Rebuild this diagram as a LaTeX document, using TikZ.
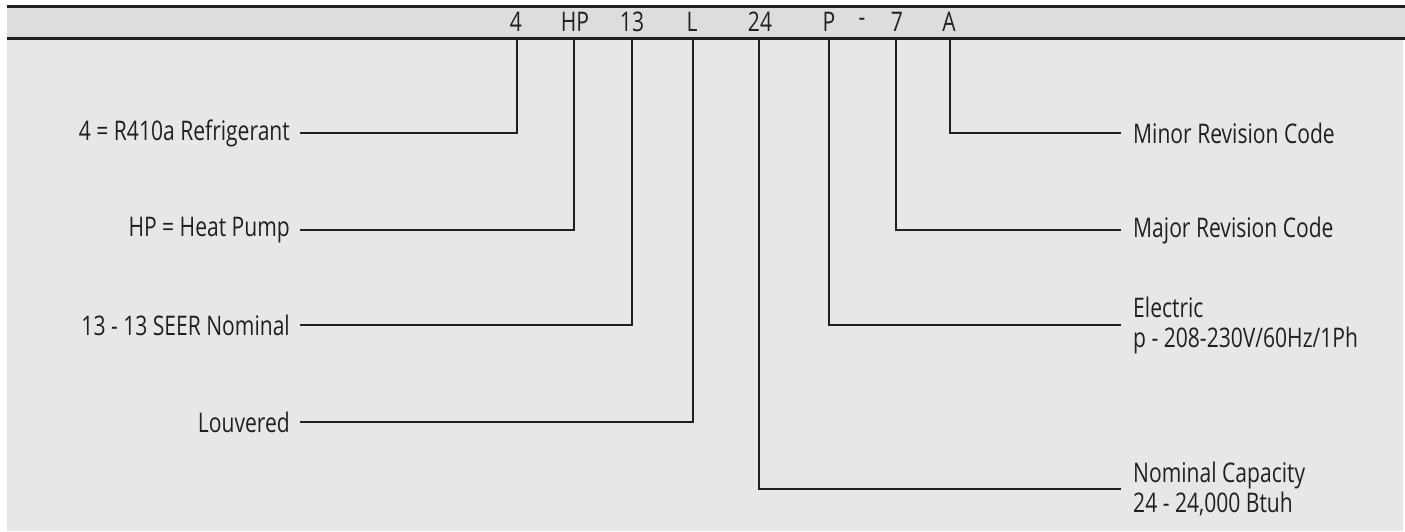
\documentclass[tikz,border=0pt]{standalone}
\usepackage{fontspec}
\setmainfont{Open Sans}[FakeStretch=0.78]
\definecolor{ink}{HTML}{231F20}
\definecolor{bodybg}{HTML}{E6E7E9}
\definecolor{headbg}{HTML}{DCDDDF}
\begin{document}
\begin{tikzpicture}[x=1pt,y=-1pt,
  txt/.style={font=\fontsize{27}{30}\selectfont, text=ink, inner sep=0pt},
  codech/.style={txt, anchor=center},
  leftlbl/.style={txt, anchor=east, inner xsep=10pt},
  rightlbl/.style={txt, anchor=west, inner xsep=12pt, align=left},
  conn/.style={draw=ink, line width=2.6pt}]
\useasboundingbox (0,0) rectangle (1405,531);
% backgrounds
\fill[bodybg] (7,38) rectangle (1403,531);
\fill[headbg] (7,6) rectangle (1405,38);
\draw[ink, line width=2.6pt] (7,6.3) -- (1405,6.3);
\draw[ink, line width=3pt] (7,38.5) -- (1405,38.5);
% code characters
\node[codech] (c4)  at (516,22) {4};
\node[codech] (cHP) at (575,22) {HP};
\node[codech] (c13) at (632,22) {13};
\node[codech] (cL)  at (692,22) {L};
\node[codech] (c24) at (760,22) {24};
\node[codech] (cP)  at (829,22) {P};
\node[codech] (cd)  at (862,22) {-};
\node[codech] (c7)  at (897,22) {7};
\node[codech] (cA)  at (949,22) {A};
% connector tops
\coordinate (t4)  at (517,40);
\coordinate (tHP) at (574,40);
\coordinate (t13) at (632,40);
\coordinate (tL)  at (693,40);
\coordinate (t24) at (759,40);
\coordinate (tP)  at (829,40);
\coordinate (t7)  at (896,40);
\coordinate (tA)  at (950,40);
% left labels
\node[leftlbl] (l4)  at (300,133) {4 = R410a Refrigerant};
\node[leftlbl] (lHP) at (300,230) {HP = Heat Pump};
\node[leftlbl] (l13) at (300,325) {13 - 13 SEER Nominal};
\node[leftlbl] (lL)  at (300,422) {Louvered};
% right labels
\node[rightlbl] (rA)  at (1121,133) {Minor Revision Code};
\node[rightlbl] (r7)  at (1121,230) {Major Revision Code};
\node[rightlbl] (rP)  at (1121,325) {Electric\\p - 208-230V/60Hz/1Ph};
\node[rightlbl] (r24) at (1121,489) {Nominal Capacity\\24 - 24,000 Btuh};
% connectors
\draw[conn] (l4.east)  -| (t4);
\draw[conn] (lHP.east) -| (tHP);
\draw[conn] (l13.east) -| (t13);
\draw[conn] (lL.east)  -| (tL);
\draw[conn] (rA.west)  -| (tA);
\draw[conn] (r7.west)  -| (t7);
\draw[conn] (rP.west)  -| (tP);
\draw[conn] (r24.west) -| (t24);
\end{tikzpicture}
\end{document}
